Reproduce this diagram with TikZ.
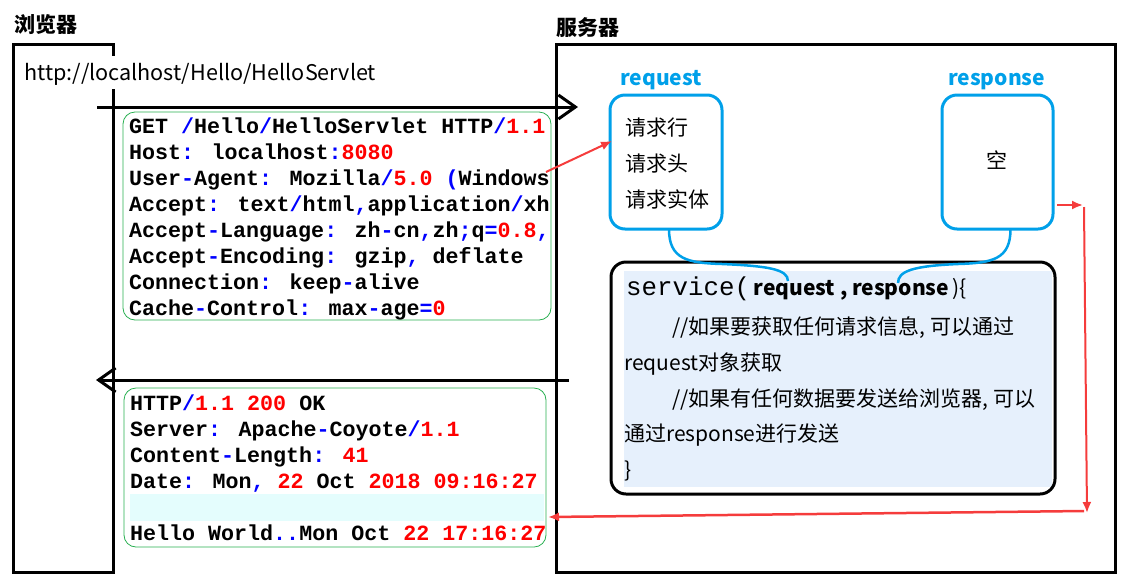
\documentclass[tikz,border=0pt]{standalone}
\usepackage{fontspec}
\setmainfont{Noto Sans CJK SC}
\newfontfamily\monof{Liberation Mono}
\usetikzlibrary{arrows.meta}
\definecolor{cyanc}{RGB}{0,160,233}
\definecolor{greenc}{RGB}{40,175,80}
\definecolor{redc}{RGB}{245,60,60}
\definecolor{codeblue}{RGB}{0,0,255}
\definecolor{codered}{RGB}{255,0,0}
\definecolor{svcfill}{RGB}{230,240,252}
\definecolor{bandc}{RGB}{228,253,253}
\newcommand\kwb[1]{\textcolor{codeblue}{#1}}
\newcommand\kwr[1]{\textcolor{codered}{#1}}
\begin{document}
\begin{tikzpicture}[x=1pt,y=-1pt,
  blackbox/.style={draw=black,line width=3pt,outer sep=0pt,inner sep=0pt,anchor=north west},
  objbox/.style={draw=cyanc,line width=3pt,rounded corners=15pt,outer sep=0pt,inner sep=0pt,anchor=north west},
  msgbox/.style={draw=greenc,line width=0.8pt,rounded corners=12pt,outer sep=0pt,inner sep=0pt,anchor=north west},
  code/.style={anchor=base west,inner sep=0pt,font=\monof\bfseries\fontsize{21.67}{26}\selectfont},
  txt/.style={anchor=base west,inner sep=0pt,font=\fontsize{21}{25}\selectfont},
  title/.style={anchor=base west,inner sep=0pt,font=\bfseries\fontsize{21}{25}\selectfont},
  objlabel/.style={anchor=base west,inner sep=0pt,text=cyanc,font=\bfseries\fontsize{21}{25}\selectfont},
  bigarrow/.style={line width=3pt,-{Straight Barb[length=17pt,width=24pt]}},
  redarrow/.style={draw=redc,line width=2pt,-{Latex[length=11pt,width=9pt]}},
  curve/.style={draw=cyanc,line width=2.5pt}
]
\useasboundingbox (0,0) rectangle (1127,582);

% ---------- browser ----------
\node[title] (blabel) at (14,32) {浏览器};
\node[blackbox,minimum width=100pt,minimum height=528pt] (browser) at (13,44) {};
\node[anchor=base west,fill=white,inner xsep=3pt,inner ysep=3pt,text height=21pt,text depth=6pt,
      font=\fontsize{21.6}{25}\selectfont] (url) at (21,80) {http://localhost/Hello/HelloServlet};

% ---------- server ----------
\node[title] (slabel) at (556,35) {服务器};
\node[blackbox,minimum width=559pt,minimum height=528pt] (server) at (556,44) {};

% ---------- request message ----------
\node[msgbox,minimum width=428pt,minimum height=208pt] (reqmsg) at (123,112) {};
\node[code] (q1) at (129,133) {GET \kwb{/}Hello\kwb{/}HelloServlet HTTP\kwb{/}\kwr{1.1}};
\node[code] (q2) at (129,159) {Host\kwb{:} localhost\kwb{:}\kwr{8080}};
\node[code] (q3) at (129,185) {User\kwb{-}Agent\kwb{:} Mozilla\kwb{/}\kwr{5.0} \kwb{(}Windows};
\node[code] (q4) at (129,211) {Accept\kwb{:} text\kwb{/}html\kwb{,}application\kwb{/}xh};
\node[code] (q5) at (129,237) {Accept\kwb{-}Language\kwb{:} zh\kwb{-}cn\kwb{,}zh\kwb{;}q\kwb{=}\kwr{0.8}\kwb{,}};
\node[code] (q6) at (129,263) {Accept\kwb{-}Encoding\kwb{:} gzip\kwb{,} deflate};
\node[code] (q7) at (129,289) {Connection\kwb{:} keep\kwb{-}alive};
\node[code] (q8) at (129,315) {Cache\kwb{-}Control\kwb{:} max\kwb{-}age\kwb{=}\kwr{0}};

% ---------- response message ----------
\fill[bandc] (130,494) rectangle (544,521);
\node[msgbox,minimum width=422pt,minimum height=159pt] (respmsg) at (124,388) {};
\node[code] (p1) at (130,410) {HTTP\kwb{/}\kwr{1.1 200} OK};
\node[code] (p2) at (130,436) {Server\kwb{:} Apache\kwb{-}Coyote\kwb{/}\kwr{1.1}};
\node[code] (p3) at (130,462) {Content\kwb{-}Length\kwb{:} \kwr{41}};
\node[code] (p4) at (130,488) {Date\kwb{:} Mon\kwb{,} \kwr{22} Oct \kwr{2018 09:16:27}};
\node[code] (p5) at (130,540) {Hello World\kwb{..}Mon Oct \kwr{22 17:16:27}};

% ---------- request / response objects ----------
\node[objlabel] (reqlabel) at (620,85) {request};
\node[objbox,minimum width=112pt,minimum height=134pt] (reqobj) at (610,95) {};
\node[txt] (o1) at (625,135) {请求行};
\node[txt] (o2) at (625,171) {请求头};
\node[txt] (o3) at (625,207) {请求实体};

\node[objlabel] (resplabel) at (948,85) {response};
\node[objbox,minimum width=111pt,minimum height=134pt] (respobj) at (942,95) {};
\node[anchor=base,inner sep=0pt,font=\fontsize{21}{25}\selectfont] (empty) at (997,168) {空};

% ---------- service ----------
\fill[svcfill] (624,271) rectangle (1052,487);
\node[blackbox,rounded corners=15pt,minimum width=444pt,minimum height=232pt] (service) at (611,262) {};
\node[txt] (s1) at (626,295) {{\monof\fontsize{25.8}{30}\selectfont service(}\,\textbf{request , response}\,)\{};
\node[txt] (s2) at (672,334) {//如果要获取任何请求信息, 可以通过};
\node[txt] (s3) at (624,370) {request对象获取};
\node[txt] (s4) at (672,406) {//如果有任何数据要发送给浏览器, 可以};
\node[txt] (s5) at (624,441) {通过response进行发送};
\node[txt] (s6) at (624,477) {\}};

% cyan connectors
\coordinate (cq1) at (722,264);
\coordinate (cq2) at (788,281);
\coordinate (cs1) at (958,264);
\coordinate (cs2) at (898,283);
\draw[curve] ([xshift=3pt]reqobj.south) .. controls +(0,30) and +(-35,-1) .. (cq1)
             .. controls +(45,2) and +(0,-12) .. (cq2);
\draw[curve] ([xshift=13pt]respobj.south) .. controls +(0,30) and +(35,-1) .. (cs1)
             .. controls +(-45,2) and +(0,-12) .. (cs2);

% ---------- big black arrows ----------
\coordinate (qa) at (97,107);
\coordinate (qb) at (578,107);
\draw[bigarrow] (qa) -- (qb);
\coordinate (pa) at (569,380);
\coordinate (pb) at (96,380);
\draw[bigarrow] (pa) -- (pb);

% ---------- red arrows ----------
\coordinate (r0) at (546,172);
\coordinate (r1) at (612,141);
\draw[redarrow] (r0) -- (r1);
\coordinate (r2) at (1057,205);
\coordinate (r3) at (1083,205);
\draw[redarrow] (r2) -- (r3);
\coordinate (r4) at (1084,207);
\coordinate (r5) at (1087,513);
\draw[redarrow] (r4) -- (r5);
\coordinate (r6) at (1084,511);
\coordinate (r7) at (548,517);
\draw[redarrow,line width=2.5pt] (r6) -- (r7);
\end{tikzpicture}
\end{document}
